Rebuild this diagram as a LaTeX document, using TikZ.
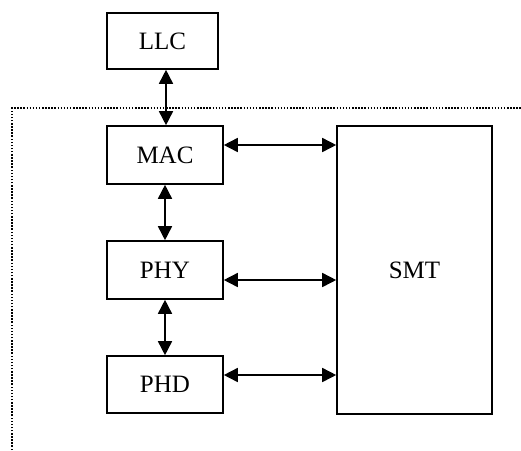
\documentclass[tikz,border=0pt]{standalone}
\usepackage{fontspec}
\setmainfont{Liberation Serif}
\usetikzlibrary{arrows.meta}
\begin{document}
\begin{tikzpicture}[x=1pt,y=-1pt,
  blk/.style={draw,line width=1.6pt,inner sep=0pt,font=\fontsize{25}{28}\selectfont},
  biarrow/.style={line width=1.6pt,{Triangle[length=14pt,width=14pt]}-{Triangle[length=14pt,width=14pt]}},
  frame/.style={line width=1.5pt,dash pattern=on 1.5pt off 1.6pt}]
\useasboundingbox (0,0) rectangle (521,450);
\node[blk,minimum width=111pt,minimum height=56pt] (llc) at (162.5,41) {LLC};
\node[blk,minimum width=116pt,minimum height=58pt] (mac) at (165,155) {MAC};
\node[blk,minimum width=116pt,minimum height=58pt] (phy) at (165,270) {PHY};
\node[blk,minimum width=116pt,minimum height=57pt] (phd) at (165,384.5) {PHD};
\node[blk,minimum width=155pt,minimum height=288pt] (smt) at (414.5,270) {SMT};
\coordinate (fa) at (12,450);
\coordinate (fb) at (12,108);
\coordinate (fc) at (521,108);
\draw[frame] (fa) -- (fb) -- (fc);
\draw[biarrow] (llc.south -| 166,0) -- (mac.north -| 166,0);
\draw[biarrow] (mac) -- (phy);
\draw[biarrow] (phy) -- (phd);
\draw[biarrow] (mac.east |- 0,145) -- (smt.west |- 0,145);
\draw[biarrow] (phy.east |- 0,280) -- (smt.west |- 0,280);
\draw[biarrow] (phd.east |- 0,375) -- (smt.west |- 0,375);
\end{tikzpicture}
\end{document}
